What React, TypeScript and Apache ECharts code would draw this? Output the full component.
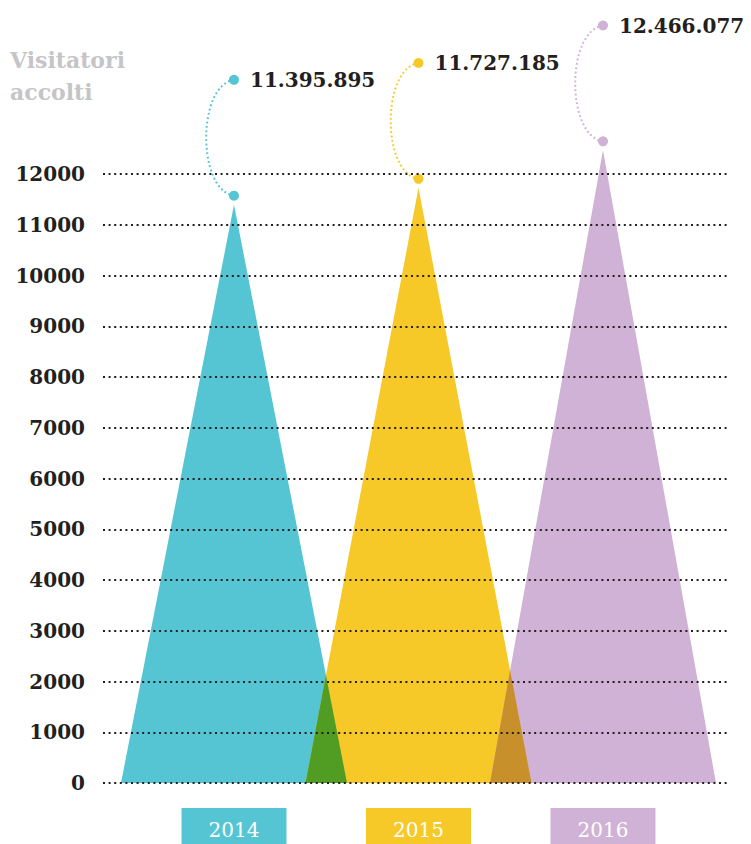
import { useEffect, useRef } from 'react';
import * as echarts from 'echarts';

// Visitors welcomed per year
const years = ['2014', '2015', '2016'];
const visitors = [11395895, 11727185, 12466077];

// Value axis (thousands of visitors)
const axisMin = 0;
const axisMax = 12000;
const axisStep = 1000;

// Styling
const fills = ['#55c5d3', '#f6c929', '#cfb2d5'];
const overlapFills = ['#519c22', '#c8902a'];
const INK = '#231f20';
const TITLE_GREY = '#c5c5c8';
const SERIF = '"DejaVu Serif", "Liberation Serif", serif';

// Layout constants (x axis units: one unit per year)
const X_MIN = -0.71;
const X_MAX = 2.683;
const HALF_BASE = 0.6125; // half width of each triangle's base
const CALLOUT_LIFT = 2460; // label dot height above the value, axis units
const PEAK_DOT_GAP = 9; // px between apex and its dot

const toThousands = (v: number) => v / 1000;
const withDots = (v: number) => String(v).replace(/\B(?=(\d{3})+(?!\d))/g, '.');

function renderItem(params: any, api: any) {
  const i = params.dataIndex;
  const tri = (k: number) => {
    const [cx, y0] = api.coord([k, 0]);
    const [, yTop] = api.coord([k, toThousands(visitors[k])]);
    const [xl] = api.coord([k - HALF_BASE, 0]);
    const [xr] = api.coord([k + HALF_BASE, 0]);
    return { cx, y0, yTop, xl, xr };
  };
  const t = tri(i);
  const children: any[] = [
    {
      type: 'polygon',
      shape: { points: [[t.xl, t.y0], [t.xr, t.y0], [t.cx, t.yTop]] },
      style: { fill: fills[i] },
    },
  ];

  // Overlap with the previous year's triangle
  if (i > 0) {
    const p = tri(i - 1);
    const hA = p.yTop - p.y0;
    const hB = t.yTop - t.y0;
    const s = (t.xl - p.xr) / (p.cx - p.xr - (hA / hB) * (t.cx - t.xl));
    const px = p.xr + s * (p.cx - p.xr);
    const py = p.y0 + s * hA;
    children.push({
      type: 'polygon',
      shape: { points: [[t.xl, t.y0], [p.xr, t.y0], [px, py]] },
      style: { fill: overlapFills[i - 1] },
    });
  }

  // Year box under the axis
  children.push({
    type: 'rect',
    shape: { x: t.cx - 52.5, y: t.y0 + 25, width: 105, height: 40 },
    style: { fill: fills[i] },
  });
  children.push({
    type: 'text',
    x: t.cx,
    y: t.y0 + 47,
    style: {
      text: years[i],
      fill: '#ffffff',
      fontFamily: SERIF,
      fontSize: 20,
      align: 'center',
      verticalAlign: 'middle',
    },
  });

  // Callout: dotted arc from apex to the figure
  const yDot = t.yTop - PEAK_DOT_GAP;
  const [, yLab] = api.coord([i, toThousands(visitors[i]) + CALLOUT_LIFT]);
  const chord = yDot - yLab;
  const bulge = chord * 0.24;
  children.push({
    type: 'bezierCurve',
    shape: {
      x1: t.cx,
      y1: yLab,
      cpx1: t.cx - (bulge * 4) / 3,
      cpy1: yLab + chord * 0.05,
      cpx2: t.cx - (bulge * 4) / 3,
      cpy2: yDot - chord * 0.05,
      x2: t.cx,
      y2: yDot,
    },
    style: { stroke: fills[i], fill: null, lineWidth: 2, lineDash: [1.8, 2.6] },
  });
  children.push({ type: 'circle', shape: { cx: t.cx, cy: yDot, r: 5 }, style: { fill: fills[i] } });
  children.push({ type: 'circle', shape: { cx: t.cx, cy: yLab, r: 5 }, style: { fill: fills[i] } });
  children.push({
    type: 'text',
    x: t.cx + 16,
    y: yLab,
    style: {
      text: withDots(visitors[i]),
      fill: INK,
      fontFamily: SERIF,
      fontWeight: 'bold',
      fontSize: 20,
      align: 'left',
      verticalAlign: 'middle',
    },
  });

  return { type: 'group', children };
}

export default function App() {
  const ref = useRef<HTMLDivElement>(null);

  useEffect(() => {
    document.body.style.margin = '0';
    if (!ref.current) return;
    const chart = echarts.init(ref.current, null, { renderer: 'svg' });
    chart.setOption({
      animation: false,
      backgroundColor: '#ffffff',
      grid: { left: 103, right: 22, top: 174, bottom: 61 },
      xAxis: {
        type: 'value',
        min: X_MIN,
        max: X_MAX,
        show: false,
      },
      yAxis: {
        type: 'value',
        min: axisMin,
        max: axisMax,
        interval: axisStep,
        z: 3,
        axisLine: { show: false },
        axisTick: { show: false },
        axisLabel: {
          margin: 18,
          color: INK,
          fontFamily: SERIF,
          fontWeight: 'bold',
          fontSize: 20,
          formatter: (v: number) => String(v),
        },
        splitLine: {
          show: true,
          lineStyle: { color: INK, width: 2, type: [2, 3.6] },
        },
      },
      graphic: [
        {
          type: 'text',
          left: 10,
          top: 49,
          style: {
            text: 'Visitatori',
            fill: TITLE_GREY,
            fontFamily: SERIF,
            fontWeight: 'bold',
            fontSize: 22,
          },
        },
        {
          type: 'text',
          left: 10,
          top: 81,
          style: {
            text: 'accolti',
            fill: TITLE_GREY,
            fontFamily: SERIF,
            fontWeight: 'bold',
            fontSize: 22,
          },
        },
      ],
      series: [
        {
          type: 'custom',
          z: 2,
          clip: false,
          renderItem,
          encode: { x: 0, y: 1 },
          data: years.map((_, i) => [i, toThousands(visitors[i])]),
        },
      ],
    });
    return () => chart.dispose();
  }, []);

  return <div ref={ref} style={{ width: 751, height: 844 }} />;
}
